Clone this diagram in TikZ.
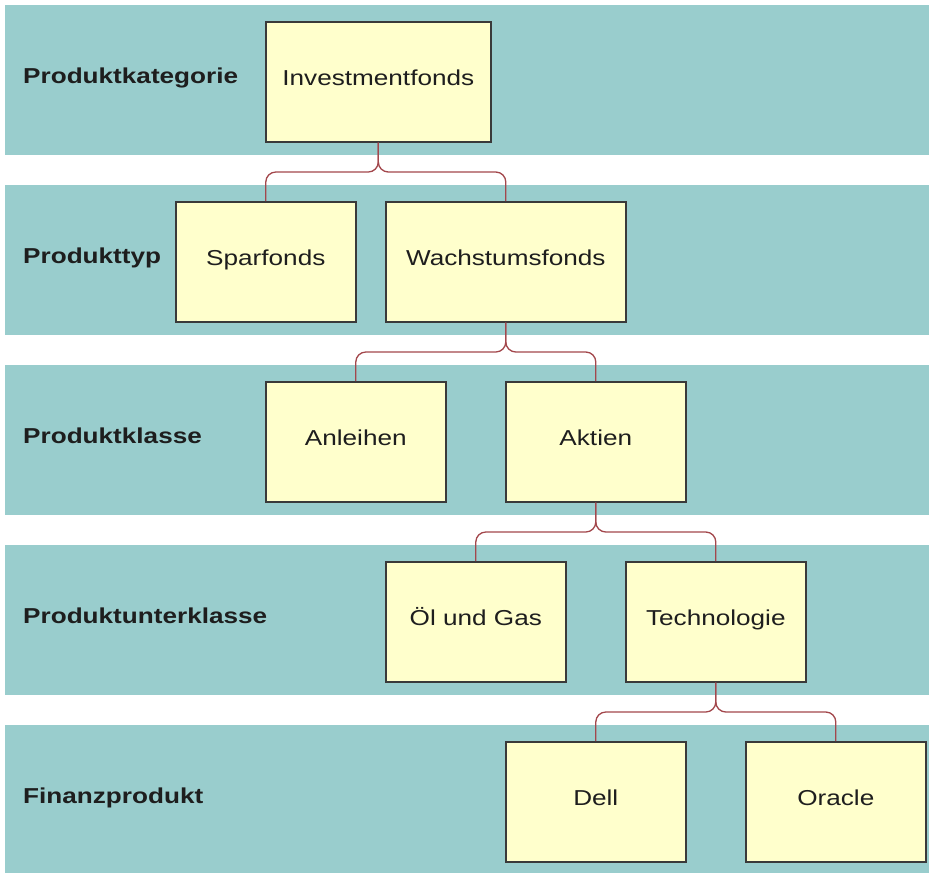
\documentclass[tikz,border=0pt]{standalone}
\usepackage{fontspec}
\setmainfont[FakeStretch=1.21]{Liberation Sans}
\begin{document}
\begin{tikzpicture}[x=1pt,y=-1pt,
  band/.style={fill=bandc,draw=none},
  box/.style={draw=boxline,line width=1.6pt,fill=boxfill,minimum width=180pt,minimum height=120pt,inner sep=0pt,anchor=north west,font=\fontsize{21.6}{26}\selectfont,text=txt,text height=0.716em,text depth=0pt},
  lvl/.style={anchor=west,font=\fontsize{21.6}{26}\selectfont\bfseries,text=txt,inner sep=0pt,text height=0.716em,text depth=0pt},
  con/.style={draw=conc,line width=1.3pt,rounded corners=10pt}]
\definecolor{bandc}{HTML}{99CDCD}
\definecolor{boxfill}{HTML}{FFFFCC}
\definecolor{boxline}{HTML}{3A3A3A}
\definecolor{conc}{HTML}{A3474C}
\definecolor{txt}{HTML}{1E1E1E}
\useasboundingbox (0,0) rectangle (929,873);
\fill[white] (0,0) rectangle (929,873);
\foreach \k in {0,...,4}{
  \fill[bandc] (5,{5+180*\k}) rectangle (929,{min(155+180*\k,873)});
}
\node[lvl] (l1) at (23,80) {Produktkategorie};
\node[lvl] (l2) at (23,260) {Produkttyp};
\node[lvl] (l3) at (23,440) {Produktklasse};
\node[lvl] (l4) at (23,620) {Produktunterklasse};
\node[lvl] (l5) at (23,800) {Finanzprodukt};

\node[box,minimum width=225pt] (inv) at (265,21) {Investmentfonds};
\node[box] (spar) at (175,201) {Sparfonds};
\node[box,minimum width=240pt] (wach) at (385,201) {Wachstumsfonds};
\node[box] (anl) at (265,381) {Anleihen};
\node[box] (akt) at (505,381) {Aktien};
\node[box] (oel) at (385,561) {Öl und Gas};
\node[box] (tech) at (625,561) {Technologie};
\node[box] (dell) at (505,741) {Dell};
\node[box] (orc) at (745,741) {Oracle};

\coordinate (m1) at (0,172);
\coordinate (m2) at (0,352);
\coordinate (m3) at (0,532);
\coordinate (m4) at (0,712);

\draw[con] (inv.south) -- (inv.south |- m1) -- (spar.north |- m1) -- (spar.north);
\draw[con] (inv.south) -- (inv.south |- m1) -- (wach.north |- m1) -- (wach.north);
\draw[con] (wach.south) -- (wach.south |- m2) -- (anl.north |- m2) -- (anl.north);
\draw[con] (wach.south) -- (wach.south |- m2) -- (akt.north |- m2) -- (akt.north);
\draw[con] (akt.south) -- (akt.south |- m3) -- (oel.north |- m3) -- (oel.north);
\draw[con] (akt.south) -- (akt.south |- m3) -- (tech.north |- m3) -- (tech.north);
\draw[con] (tech.south) -- (tech.south |- m4) -- (dell.north |- m4) -- (dell.north);
\draw[con] (tech.south) -- (tech.south |- m4) -- (orc.north |- m4) -- (orc.north);
\end{tikzpicture}
\end{document}
